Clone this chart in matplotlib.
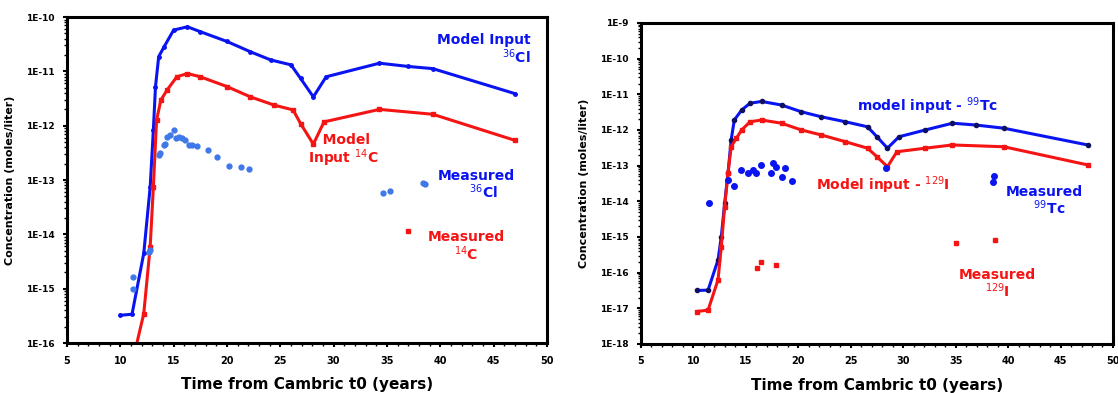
import numpy as np
import matplotlib
matplotlib.use("Agg")
import matplotlib.pyplot as plt
from matplotlib.ticker import FixedLocator, MultipleLocator, LogLocator, NullFormatter

# Left panel: 36Cl and 14C (log10 of concentration)
cl_model_t = [10.0, 11.1, 12.2, 12.8, 13.1, 13.3, 13.6, 14.1, 15.0, 16.3, 17.5, 20.0,
              22.2, 24.1, 26.0, 26.9, 28.1, 29.3, 34.3, 37.0, 39.3, 47.0]
cl_model_log = [-15.49, -15.47, -14.35, -13.13, -12.08, -11.28, -10.73, -10.55, -10.24,
                -10.18, -10.27, -10.45, -10.64, -10.79, -10.88, -11.13, -11.47, -11.10,
                -10.85, -10.91, -10.95, -11.41]
c14_model_t = [11.2, 12.2, 12.8, 13.1, 13.4, 13.8, 14.4, 15.3, 16.3, 17.5, 20.0, 22.2,
               24.4, 26.2, 26.9, 28.1, 29.1, 34.3, 39.3, 47.0]
c14_model_log = [-16.3, -15.46, -14.23, -13.13, -11.90, -11.53, -11.34, -11.10, -11.04,
                 -11.10, -11.28, -11.47, -11.62, -11.71, -11.96, -12.34, -11.93, -11.70,
                 -11.79, -12.27]
cl_meas_t = [11.2, 11.2, 12.65, 12.8, 13.6, 13.76, 14.07, 14.2, 14.4, 14.7, 15.0, 15.2,
             15.5, 15.8, 16.1, 16.4, 16.7, 17.2, 18.2, 19.1, 20.2, 21.3, 22.1,
             34.6, 35.3, 38.4, 38.6]
cl_meas_log = [-14.78, -15.0, -14.32, -14.29, -12.54, -12.51, -12.36, -12.33, -12.2,
               -12.17, -12.08, -12.23, -12.2, -12.23, -12.27, -12.36, -12.36, -12.38,
               -12.45, -12.58, -12.74, -12.76, -12.79, -13.23, -13.2, -13.05, -13.08]
c14_meas_t = [37.0]
c14_meas_log = [-13.94]

# Right panel: 99Tc and 129I
tc_model_t = [10.3, 11.4, 12.35, 12.66, 12.98, 13.3, 13.6, 13.9, 14.6, 15.4, 16.5, 18.4,
              20.3, 22.2, 24.5, 26.6, 27.5, 28.5, 29.6, 32.1, 34.7, 36.9, 39.6, 47.6]
tc_model_log = [-16.50, -16.49, -15.64, -14.99, -14.05, -13.21, -12.28, -11.72, -11.44,
                -11.25, -11.20, -11.30, -11.49, -11.63, -11.77, -11.91, -12.19, -12.51,
                -12.19, -12.00, -11.81, -11.86, -11.95, -12.42]
i_model_t = [10.3, 11.4, 12.35, 12.66, 12.98, 13.3, 13.6, 14.1, 14.6, 15.4, 16.5, 18.4,
             20.3, 22.2, 24.5, 26.6, 27.5, 28.5, 29.4, 32.1, 34.7, 39.6, 47.6]
i_model_log = [-17.09, -17.05, -16.20, -15.27, -14.15, -13.21, -12.47, -12.23, -12.00,
               -11.77, -11.72, -11.81, -12.00, -12.14, -12.33, -12.51, -12.75, -13.03,
               -12.61, -12.51, -12.42, -12.47, -12.98]
tc_meas_t = [11.45, 13.3, 13.9, 14.5, 15.2, 15.7, 16.0, 16.4, 17.4, 17.6, 17.9, 18.4,
             18.7, 19.4, 28.4, 38.7, 38.6]
tc_meas_log = [-14.04, -13.4, -13.57, -13.12, -13.2, -13.12, -13.21, -12.98, -13.21,
               -12.92, -13.05, -13.33, -13.07, -13.43, -13.07, -13.3, -13.45]
i_meas_t = [16.1, 16.4, 17.9, 35.0, 38.8]
i_meas_log = [-15.88, -15.69, -15.78, -15.18, -15.08]

left_yticks = [-16, -15, -14, -13, -12, -11, -10]
right_yticks = [-18, -17, -16, -15, -14, -13, -12, -11, -10, -9]
xticks = [5, 10, 15, 20, 25, 30, 35, 40, 45, 50]

BLUE = "#0a14f0"
RED = "#f51414"
LBLUE = "#3f78e8"


def p(v):
    return 10.0 ** np.array(v)


fig = plt.figure(figsize=(11.18, 3.93), dpi=100)
ax1 = fig.add_axes([0.0599, 0.1272, 0.4293, 0.8295])
ax2 = fig.add_axes([0.5733, 0.1247, 0.4222, 0.8168])

ax1.semilogy(cl_model_t, p(cl_model_log), color=BLUE, lw=2.2, marker="o", ms=2.5)
ax1.semilogy(c14_model_t, p(c14_model_log), color=RED, lw=2.2, marker="s", ms=2.5)
ax1.semilogy(cl_meas_t, p(cl_meas_log), ls="none", color=LBLUE, marker="o", ms=3.5)
ax1.semilogy(c14_meas_t, p(c14_meas_log), ls="none", color=RED, marker="s", ms=3.5)

ax2.semilogy(tc_model_t, p(tc_model_log), color=BLUE, lw=2.2, marker="o", ms=3,
             mfc="#101060", mec="#101060")
ax2.semilogy(i_model_t, p(i_model_log), color=RED, lw=2.2, marker="s", ms=3)
ax2.semilogy(tc_meas_t, p(tc_meas_log), ls="none", color=BLUE, marker="o", ms=4)
ax2.semilogy(i_meas_t, p(i_meas_log), ls="none", color=RED, marker="s", ms=3.5)

for ax, yt in ((ax1, left_yticks), (ax2, right_yticks)):
    ax.set_xlim(5, 50)
    ax.set_ylim(10.0 ** yt[0], 10.0 ** yt[-1])
    ax.xaxis.set_major_locator(FixedLocator(xticks))
    ax.xaxis.set_minor_locator(MultipleLocator(1))
    ax.set_xticklabels([str(t) for t in xticks], fontsize=7, fontweight="bold")
    ax.yaxis.set_major_locator(FixedLocator([10.0 ** v for v in yt]))
    ax.yaxis.set_minor_locator(LogLocator(base=10, subs=np.arange(2, 10) * 1.0))
    ax.yaxis.set_minor_formatter(NullFormatter())
    ax.set_yticklabels(["1E" + str(v) for v in yt], fontsize=6.5, fontweight="bold")
    for s in ax.spines.values():
        s.set_linewidth(2.2)
    ax.tick_params(which="major", length=3, width=1.5, pad=6)
    ax.tick_params(which="minor", length=2, width=1)
    ax.set_xlabel("Time from Cambric t0 (years)", fontsize=11, fontweight="bold",
                  labelpad=8)
    ax.set_ylabel("Concentration (moles/liter)", fontsize=8, fontweight="bold",
                  labelpad=8)

tk = dict(fontweight="bold", fontsize=10)
ax1.text(48.5, 10.0 ** -10.6, "Model Input\n$^{36}$Cl", color=BLUE, ha="right",
         va="center", linespacing=1.0, **tk)
ax1.text(27.6, 10.0 ** -12.47, "   Model\nInput $^{14}$C", color=RED, ha="left",
         va="center", linespacing=1.0, **tk)
ax1.text(43.4, 10.0 ** -13.09, "Measured\n   $^{36}$Cl", color=BLUE, ha="center",
         va="center", linespacing=1.0, **tk)
ax1.text(42.4, 10.0 ** -14.22, "Measured\n$^{14}$C", color=RED, ha="center",
         va="center", linespacing=1.0, **tk)

ax2.text(32.3, 10.0 ** -11.33, "model input - $^{99}$Tc", color=BLUE, ha="center",
         va="center", **tk)
ax2.text(28.1, 10.0 ** -13.54, "Model input - $^{129}$I", color=RED, ha="center",
         va="center", **tk)
ax2.text(43.5, 10.0 ** -13.99, "Measured\n  $^{99}$Tc", color=BLUE, ha="center",
         va="center", linespacing=1.0, **tk)
ax2.text(39.0, 10.0 ** -16.32, "Measured\n$^{129}$I", color=RED, ha="center",
         va="center", linespacing=1.0, **tk)

fig.savefig("out.png", dpi=100)
